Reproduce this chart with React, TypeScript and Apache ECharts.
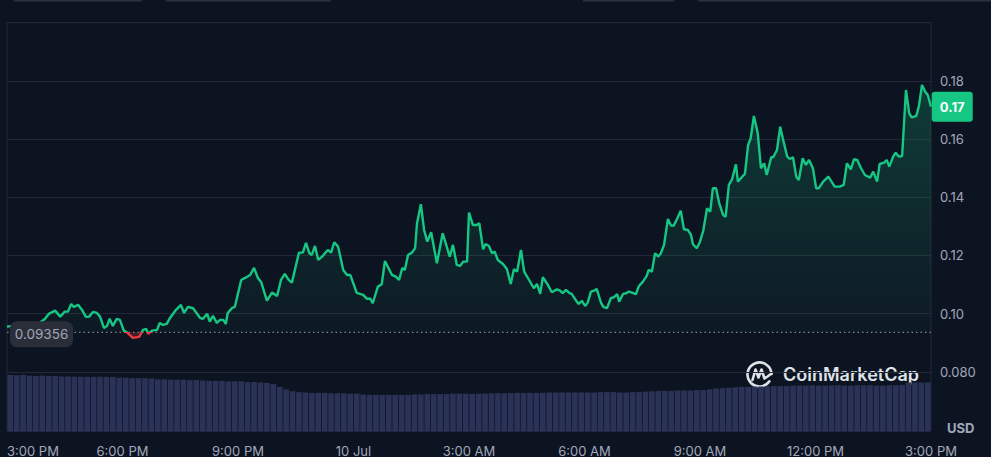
import React, { useEffect, useRef } from 'react';
import * as echarts from 'echarts';

const baselinePrice = 0.09356;

const xTickLabels = ['3:00 PM', '6:00 PM', '9:00 PM', '10 Jul', '3:00 AM', '6:00 AM', '9:00 AM', '12:00 PM', '3:00 PM'];

// minutes since 3:00 PM (9 Jul)
const timeMinutes = [
  0, 20, 48, 59, 65, 75, 83, 90, 95, 100, 104, 111, 117, 123, 128, 134, 140, 145, 151, 156,
  160, 165, 171, 176, 182, 187, 196, 206, 212, 217, 220, 226, 234, 238, 243, 249, 254, 262, 271, 276,
  282, 290, 301, 305, 312, 316, 321, 327, 332, 337, 341, 344, 351, 355, 365, 371, 379, 385, 391, 396,
  405, 413, 421, 427, 433, 439, 444, 455, 461, 466, 471, 475, 480, 485, 491, 500, 505, 510, 516, 524,
  530, 535, 545, 555, 561, 566, 570, 578, 584, 589, 600, 606, 611, 616, 620, 625, 631, 636, 639, 645,
  650, 655, 661, 670, 679, 690, 695, 701, 706, 711, 717, 720, 726, 732, 736, 742, 746, 751, 756, 760,
  765, 773, 779, 785, 790, 795, 801, 806, 813, 821, 826, 831, 835, 843, 849, 857, 862, 866, 871, 877,
  880, 888, 891, 896, 901, 905, 910, 915, 919, 926, 930, 935, 941, 946, 951, 954, 960, 965, 969, 974,
  980, 985, 991, 997, 1000, 1005, 1010, 1015, 1019, 1024, 1030, 1035, 1039, 1044, 1050, 1055, 1061, 1066, 1069, 1075,
  1080, 1085, 1091, 1096, 1100, 1105, 1110, 1116, 1120, 1125, 1130, 1136, 1139, 1145, 1150, 1155, 1159, 1164, 1170, 1175,
  1180, 1184, 1191, 1194, 1200, 1205, 1209, 1216, 1220, 1225, 1230, 1234, 1240, 1245, 1250, 1256, 1261, 1265, 1272, 1280,
  1290, 1298, 1304, 1309, 1315, 1320, 1325, 1331, 1337, 1345, 1350, 1356, 1360, 1367, 1371, 1375, 1381, 1385, 1390, 1395,
  1401, 1406, 1410, 1417, 1421, 1426, 1431, 1435, 1440,
];

const prices = [
  0.09553, 0.09612, 0.09646, 0.09818, 0.0999, 0.10103, 0.09897, 0.10069, 0.10069, 0.10333, 0.1023, 0.10299, 0.10127, 0.09887, 0.09897, 0.10058, 0.10024, 0.09897, 0.09509, 0.09577,
  0.09828, 0.09577, 0.09818, 0.09784, 0.09416, 0.09354, 0.09165, 0.09199, 0.0944, 0.09474, 0.09302, 0.09416, 0.0944, 0.0968, 0.09612, 0.09646, 0.09852, 0.10093, 0.10299, 0.10024,
  0.1023, 0.10186, 0.09852, 0.09818, 0.0999, 0.09725, 0.09921, 0.0968, 0.09784, 0.09784, 0.09646, 0.10024, 0.10196, 0.1023, 0.11158, 0.11227, 0.1133, 0.1157, 0.11227, 0.11089,
  0.10447, 0.10722, 0.10608, 0.11158, 0.11364, 0.11158, 0.11065, 0.12096, 0.12096, 0.1243, 0.12086, 0.12017, 0.12326, 0.11845, 0.11959, 0.12189, 0.12096, 0.12454, 0.12302, 0.11502,
  0.1133, 0.1133, 0.10711, 0.10643, 0.10505, 0.10522, 0.10357, 0.10928, 0.1101, 0.11811, 0.1133, 0.11271, 0.11158, 0.1157, 0.11502, 0.12017, 0.12096, 0.12247, 0.13107, 0.13759,
  0.12876, 0.12474, 0.12797, 0.11732, 0.12763, 0.11959, 0.12361, 0.11674, 0.11639, 0.11787, 0.11787, 0.13471, 0.13048, 0.13048, 0.13107, 0.12213, 0.12395, 0.12326, 0.12076, 0.12131,
  0.11845, 0.11708, 0.11536, 0.11021, 0.11526, 0.11443, 0.12189, 0.11443, 0.11182, 0.10873, 0.11021, 0.10677, 0.11251, 0.10986, 0.10735, 0.10832, 0.1079, 0.10701, 0.10814, 0.10701,
  0.10677, 0.10412, 0.10333, 0.10436, 0.10265, 0.10378, 0.10756, 0.1079, 0.10849, 0.10357, 0.1022, 0.10186, 0.10529, 0.10564, 0.10667, 0.10412, 0.10677, 0.10701, 0.10756, 0.10722,
  0.10667, 0.10952, 0.111, 0.11296, 0.11502, 0.11443, 0.12076, 0.11959, 0.12076, 0.12361, 0.13254, 0.13024, 0.13024, 0.13244, 0.1354, 0.129, 0.12876, 0.12704, 0.12385, 0.12247,
  0.12474, 0.12842, 0.13622, 0.13505, 0.14309, 0.14309, 0.13794, 0.13392, 0.13333, 0.14423, 0.14619, 0.15134, 0.14536, 0.14687, 0.14801, 0.15797, 0.16027, 0.16794, 0.16199, 0.14997,
  0.15168, 0.14766, 0.15375, 0.15375, 0.15625, 0.16426, 0.16027, 0.15395, 0.15316, 0.15375, 0.14708, 0.14595, 0.1534, 0.1511, 0.15282, 0.14997, 0.14309, 0.14309, 0.14536, 0.14708,
  0.14364, 0.14364, 0.14423, 0.15168, 0.14962, 0.15306, 0.15282, 0.14997, 0.14766, 0.14674, 0.1488, 0.14536, 0.15144, 0.15189, 0.15282, 0.15052, 0.15395, 0.15533, 0.15395, 0.15419,
  0.17687, 0.16887, 0.16749, 0.16794, 0.17113, 0.17859, 0.17629, 0.17515, 0.17113,
];

// 10-minute volume bars (millions USD, rolling)
const volumeBars = [
  14.2, 14.1, 14.2,
  14.0, 13.9, 14.0, 13.9, 13.9, 13.8,
  13.8, 13.75, 13.75, 13.7, 13.7, 13.75, 13.7, 13.7,
  13.5, 13.5, 13.4, 13.4, 13.4, 13.3,
  13.1, 13.1, 13.0, 13.0, 13.0, 12.9, 12.9, 12.8,
  12.7, 12.7, 12.7, 12.6, 12.6, 12.6,
  12.4, 12.4, 12.3, 12.2, 11.9,
  11.2, 10.6, 10.1, 9.9,
  9.8, 9.7, 9.7, 9.7, 9.6, 9.6, 9.6, 9.5, 9.5, 9.3,
  9.2, 9.2, 9.2, 9.2, 9.2, 9.2, 9.2, 9.3, 9.3,
  9.4, 9.4, 9.4, 9.4, 9.5, 9.5, 9.5, 9.4, 9.5, 9.5, 9.6, 9.6, 9.6,
  9.7, 9.7, 9.7, 9.7, 9.7, 9.7, 9.8, 9.8, 9.8, 9.8,
  9.8, 9.8, 9.8, 9.8, 9.9, 9.9, 9.9, 9.8, 9.8, 9.9, 9.9, 10.0, 10.1,
  10.2, 10.2, 10.2, 10.3, 10.3, 10.3, 10.4, 10.4,
  10.6, 10.8, 10.9, 11.0, 11.1,
  11.2, 11.2, 11.3, 11.3, 11.4, 11.4, 11.4, 11.4,
  11.5, 11.5, 11.5, 11.6, 11.5, 11.5, 11.6, 11.6, 11.5, 11.5, 11.6, 11.6, 11.6, 11.5, 11.5, 11.6, 11.6, 11.7,
  12.3, 12.3, 12.3, 12.3,
];

const GREEN = '#16c784';
const RED = '#ea3943';
const BG = '#0d1421';
const GRID = '#222836';
const LABEL = '#a1a7bb';
const FONT = 'Inter, "Noto Sans", sans-serif';

export default function App() {
  const ref = useRef<HTMLDivElement>(null);

  useEffect(() => {
    if (!ref.current) return;
    const chart = echarts.init(ref.current, null, { renderer: 'svg' });
    const n = Math.min(timeMinutes.length, prices.length);
    const pts: number[][] = [];
    const up: number[][] = [];
    const down: number[][] = [];
    for (let i = 0; i < n; i++) {
      pts.push([timeMinutes[i], prices[i]]);
      up.push([timeMinutes[i], Math.max(prices[i], baselinePrice)]);
      down.push([timeMinutes[i], Math.min(prices[i], baselinePrice)]);
    }
    const last = pts[n - 1];
    const logoColor = '#dfe2e8';

    const staticGraphics: any[] = [
      { type: 'rect', left: 14, top: 0, shape: { width: 128, height: 1.5 }, style: { fill: '#2b3140' }, silent: true },
      { type: 'rect', left: 166, top: 0, shape: { width: 165, height: 1.5 }, style: { fill: '#2b3140' }, silent: true },
      { type: 'rect', left: 583, top: 0, shape: { width: 91, height: 1.5 }, style: { fill: '#2b3140' }, silent: true },
      { type: 'rect', left: 698, top: 0, shape: { width: 293, height: 1.5 }, style: { fill: '#2b3140' }, silent: true },
      {
        type: 'text', left: 947, top: 421, silent: true,
        style: { text: 'USD', fill: LABEL, font: `bold 13px ${FONT}` },
      },
      {
        type: 'group', x: 746, y: 361, silent: true,
        children: [
          {
            type: 'arc', shape: { cx: 13.5, cy: 13.5, r: 12, startAngle: 0.6, endAngle: Math.PI * 2 - 0.05, clockwise: true },
            style: { stroke: logoColor, lineWidth: 2.6, fill: 'none', lineCap: 'round' },
          },
          {
            type: 'polyline',
            shape: { points: [[6.5, 19], [9.5, 8.5], [12.5, 16.5], [15.5, 8.5], [18.5, 17.5], [21.5, 15.5], [25.5, 12.5]] },
            style: { stroke: logoColor, lineWidth: 2.6, fill: 'none', lineJoin: 'round', lineCap: 'round' },
          },
        ],
      },
      {
        type: 'text', left: 783, top: 365, silent: true,
        style: { text: 'CoinMarketCap', fill: logoColor, font: `600 18px ${FONT}` },
      },
    ];

    chart.setOption({
      animation: false,
      backgroundColor: BG,
      textStyle: { fontFamily: FONT },
      grid: [
        { left: 7, right: 60, top: 22.7, bottom: 26.9, show: true, borderColor: GRID, borderWidth: 1 },
        { left: 7, right: 60, top: 311.7, bottom: 25.3 },
      ],
      xAxis: [
        {
          type: 'value', gridIndex: 0, min: 0, max: 1440, interval: 180,
          axisLine: { show: false }, axisTick: { show: false }, splitLine: { show: false },
          axisLabel: {
            color: LABEL, fontSize: 13, margin: 14, fontFamily: FONT,
            showMinLabel: true, showMaxLabel: true, alignMinLabel: 'left',
            formatter: (v: number) => xTickLabels[Math.round(v / 180)] ?? '',
          },
        },
        { type: 'category', gridIndex: 1, data: volumeBars.map((_, i) => String(i)), show: false },
      ],
      yAxis: [
        {
          type: 'value', gridIndex: 0, position: 'right', min: 0.06, max: 0.2, interval: 0.02,
          axisLine: { show: false }, axisTick: { show: false },
          splitLine: { lineStyle: { color: GRID, width: 1 } },
          axisLabel: {
            color: LABEL, fontSize: 13, margin: 9, fontFamily: FONT,
            formatter: (v: number) => {
              const r = Math.round(v * 100) / 100;
              if (r <= 0.06 || r >= 0.2) return '';
              return r < 0.1 ? r.toFixed(3) : r.toFixed(2);
            },
          },
        },
        { type: 'value', gridIndex: 1, min: 0, max: 30, show: false },
      ],
      visualMap: {
        type: 'piecewise', show: false, seriesIndex: 2, dimension: 1,
        pieces: [
          { gte: 0, lt: baselinePrice, color: RED },
          { gte: baselinePrice, lte: 1, color: GREEN },
        ],
      },
      series: [
        {
          type: 'line', xAxisIndex: 0, yAxisIndex: 0, data: up, symbol: 'none', silent: true, z: 1,
          lineStyle: { width: 0, opacity: 0 },
          areaStyle: {
            origin: baselinePrice,
            color: {
              type: 'linear', x: 0, y: 0, x2: 0, y2: 1,
              colorStops: [
                { offset: 0, color: 'rgba(22,199,132,0.32)' },
                { offset: 1, color: 'rgba(22,199,132,0.04)' },
              ],
            },
          },
        },
        {
          type: 'line', xAxisIndex: 0, yAxisIndex: 0, data: down, symbol: 'none', silent: true, z: 1,
          lineStyle: { width: 0, opacity: 0 },
          areaStyle: { origin: baselinePrice, color: 'rgba(234,57,67,0.35)' },
        },
        {
          type: 'line', xAxisIndex: 0, yAxisIndex: 0, data: pts, symbol: 'none', silent: true, z: 3,
          lineStyle: { width: 2.4 },
        },
        {
          type: 'bar', xAxisIndex: 1, yAxisIndex: 1, data: volumeBars, silent: true, z: 0,
          barCategoryGap: '12%', itemStyle: { color: '#2b3257' },
        },
        {
          type: 'line', xAxisIndex: 0, yAxisIndex: 0, symbol: 'none', silent: true, z: 2,
          data: [[0, baselinePrice], [1440, baselinePrice]],
          lineStyle: { type: [1.5, 3], color: '#7c8392', width: 1.2 },
        },
      ],
      graphic: staticGraphics,
    });

    // Price tags placed through the chart's own scales
    const basePx = chart.convertToPixel({ gridIndex: 0 }, [0, baselinePrice]) as number[];
    const lastPx = chart.convertToPixel({ gridIndex: 0 }, [last[0], last[1]]) as number[];
    if (basePx && lastPx) {
      chart.setOption({
        graphic: [
          ...staticGraphics,
          {
            type: 'group', x: basePx[0] + 3, y: basePx[1] - 11, z: 100, silent: true,
            children: [
              { type: 'rect', z: 100, shape: { x: 0, y: 0, width: 63, height: 26, r: 7 }, style: { fill: '#2a2e39' } },
              {
                type: 'text', z: 101, x: 31.5, y: 13,
                style: { text: baselinePrice.toFixed(5), fill: LABEL, font: `13.5px ${FONT}`, align: 'center', verticalAlign: 'middle' },
              },
            ],
          },
          {
            type: 'group', x: lastPx[0] + 0.7, y: lastPx[1] - 15, z: 100, silent: true,
            children: [
              { type: 'rect', z: 100, shape: { x: 0, y: 0, width: 41, height: 30, r: 3 }, style: { fill: GREEN } },
              {
                type: 'text', z: 101, x: 20.5, y: 15,
                style: { text: last[1].toFixed(2), fill: '#ffffff', font: `bold 13px ${FONT}`, align: 'center', verticalAlign: 'middle' },
              },
            ],
          },
        ],
      });
    }
    return () => chart.dispose();
  }, []);

  return (
    <div
      ref={ref}
      style={{ position: 'fixed', left: 0, top: 0, width: 991, height: 457, background: BG }}
    />
  );
}
